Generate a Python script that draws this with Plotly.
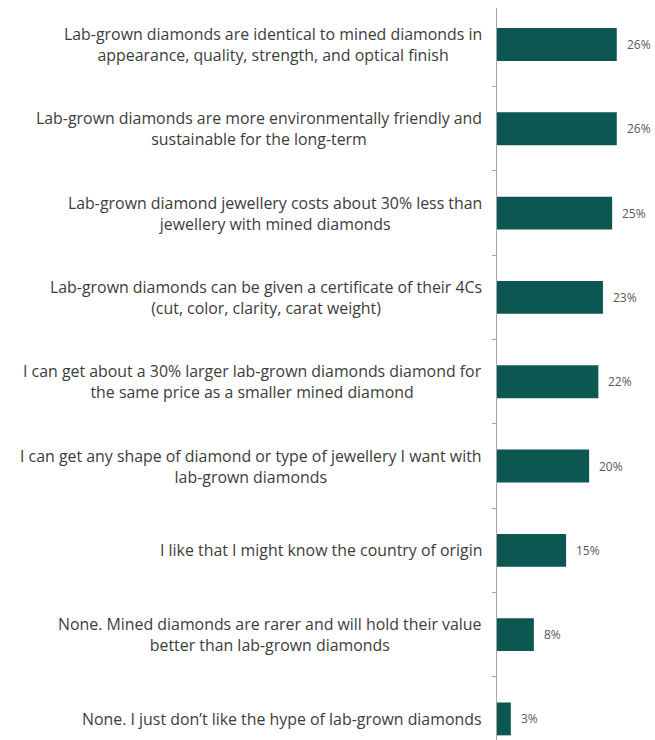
import plotly.graph_objects as go

categories = [
    "Lab-grown diamonds are identical to mined diamonds in<br>appearance, quality, strength, and optical finish",
    "Lab-grown diamonds are more environmentally friendly and<br>sustainable for the long-term",
    "Lab-grown diamond jewellery costs about 30% less than<br>jewellery with mined diamonds",
    "Lab-grown diamonds can be given a certificate of their 4Cs<br>(cut, color, clarity, carat weight)",
    "I can get about a 30% larger lab-grown diamonds diamond for<br>the same price as a smaller mined diamond",
    "I can get any shape of diamond or type of jewellery I want with<br>lab-grown diamonds",
    "I like that I might know the country of origin",
    "None. Mined diamonds are rarer and will hold their value<br>better than lab-grown diamonds",
    "None. I just don\u2019t like the hype of lab-grown diamonds",
]
values = [26, 26, 25, 23, 22, 20, 15, 8, 3]
value_labels = [f"{v}%" for v in values]

BAR_COLOR = "#0d5752"
FONT = "Open Sans"

fig = go.Figure()
fig.add_trace(go.Bar(
    x=values,
    y=categories,
    orientation="h",
    marker=dict(color=BAR_COLOR, line=dict(width=0)),
    width=0.39,
    hoverinfo="skip",
))

annotations = []
for cat in categories:
    annotations.append(dict(
        x=0, xref="paper", y=cat, yref="y",
        text=cat, showarrow=False, xanchor="right", yanchor="middle",
        align="center", xshift=-13,
        font=dict(family=FONT, size=15.9, color="#3c3c3c"),
    ))
for cat, v, lab in zip(categories, values, value_labels):
    annotations.append(dict(
        x=v, xref="x", y=cat, yref="y",
        text=lab, showarrow=False, xanchor="left", yanchor="middle",
        xshift=8,
        font=dict(family=FONT, size=12, color="#595959"),
    ))

fig.update_layout(
    width=655, height=740,
    margin=dict(l=497, r=0, t=8, b=0),
    paper_bgcolor="white", plot_bgcolor="white",
    showlegend=False,
    annotations=annotations,
    xaxis=dict(range=[0, 34.3], visible=False, showgrid=False, zeroline=False),
    yaxis=dict(
        type="category",
        range=[8.25, -0.433],
        showticklabels=False,
        showgrid=False, zeroline=False,
        showline=True, linecolor="#a6a6a6", linewidth=1,
        ticks="outside", ticklen=4, tickcolor="#a6a6a6",
        tickson="boundaries",
    ),
)

fig.write_html("out.html")
